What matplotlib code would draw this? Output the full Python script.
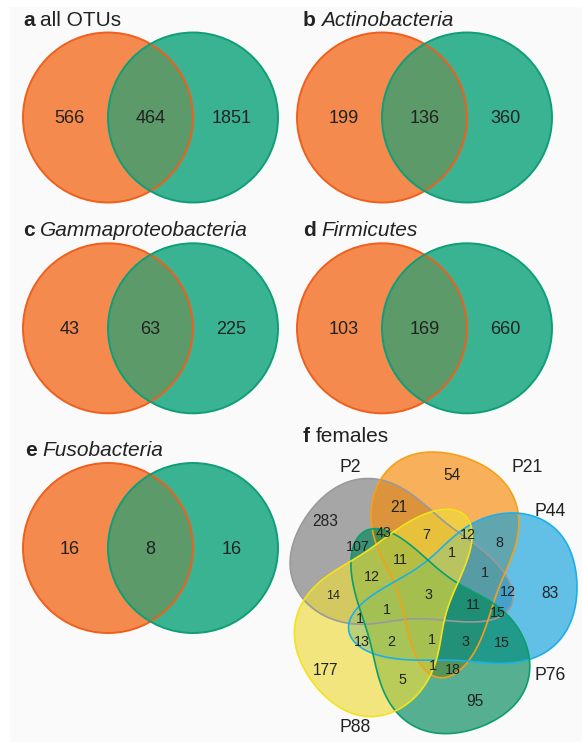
import numpy as np
import matplotlib.pyplot as plt
from matplotlib.patches import Circle, Polygon, Rectangle

plt.rcParams['font.family'] = ['Liberation Sans', 'DejaVu Sans']

# -------------------------------
# Data
# -------------------------------
panel_letters = ['a', 'b', 'c', 'd', 'e']
panel_names = ['all OTUs', 'Actinobacteria', 'Gammaproteobacteria', 'Firmicutes', 'Fusobacteria']
panel_italic = [False, True, True, True, True]
left_only = [566, 199, 43, 103, 16]
shared = [464, 136, 63, 169, 8]
right_only = [1851, 360, 225, 660, 16]

female_sets = ['P2', 'P21', 'P44', 'P76', 'P88']
female_counts = [283, 54, 21, 107, 43, 7, 12, 8, 1, 11, 12, 1, 3, 12, 83, 14,
                 11, 15, 1, 1, 13, 2, 1, 3, 15, 177, 1, 18, 5, 95]

# -------------------------------
# Layout (pixel coordinates, y down)
# -------------------------------
W, H = 582, 742
R = 85
panel_origin = [(108, 117.5), (382, 117.5), (108, 328.3), (382, 328.3), (108, 548)]
panel_dx = 85
title_pos = [(23, 26), (303, 26), (23, 235.7), (303, 235.7), (25, 456)]

ORANGE_FILL, ORANGE_EDGE = '#f48a4e', '#f05f1c'
GREEN_FILL, GREEN_EDGE = '#3ab393', '#0f9e77'
BOTH_FILL = '#5c9a69'
TXT = '#222222'

# label positions for the five-set diagram, same order as female_counts
f_label_xy = [(325, 521.7), (451.7, 475), (399.3, 507.3), (358.3, 546.7), (383.3, 533.3),
              (426.7, 535), (468.3, 535), (499, 543.3), (452.3, 553.3), (400, 560),
              (371.7, 576.7), (485, 573.3), (428.3, 595), (508.3, 591.7), (550, 593.3),
              (333.3, 595.7), (473.3, 605), (498.3, 613.3), (360, 619.3), (386.7, 610),
              (361.7, 641.7), (391.7, 641.7), (432.3, 640), (465.7, 641.7), (501.7, 642.7),
              (325.7, 670.7), (432.7, 665.7), (453.3, 670), (402.3, 680), (475, 701.7)]
f_big = {283, 54, 21, 83, 177, 95}
f_center = (425.7, 592.3)
f_set_xy = [(350, 467), (527, 467), (550, 512), (550, 675), (355, 728)]
f_fill = ['#7a7a7a', '#f88a04', '#10a1de', '#00875a', '#eedb3b']
f_edge = ['#9a9a9a', '#f5a01a', '#1cb0e6', '#0a9e6e', '#f3e31c']
f_rot = [144, 72, 0, -72, -144]
f_stretch = [0.944, 0.94, 0.987, 0.96, 0.957]   # length of each set along its own axis
TIP_X = -80

# traced outline of one set (local coords, y up); the others are rotated copies
shape_pts = np.array([
    (153.7, 5.7), (152.7, -14.3), (141, -41), (117.7, -61), (77.7, -72.7), (24.3, -67.7),
    (-19, -65), (-49, -62.7), (-69, -54.3), (-79, -41), (-79.7, -27.7), (-72.3, -17.7),
    (-55.7, -7.7), (-35.7, 4), (-15.7, 19), (4.3, 35.7), (21, 49), (44.3, 65.7),
    (81, 76.3), (117.7, 74), (141, 55.7), (153.7, 22.3)])


def smooth_outline(pts, harmonics=4, n=400):
    """Least squares Fourier fit of a closed traced outline."""
    d = np.r_[0, np.cumsum(np.hypot(*np.diff(np.vstack([pts, pts[:1]]), axis=0).T))]
    t = d[:-1] / d[-1]

    def basis(tt):
        cols = [np.ones_like(tt)]
        for k in range(1, harmonics + 1):
            cols += [np.cos(2 * np.pi * k * tt), np.sin(2 * np.pi * k * tt)]
        return np.column_stack(cols)

    coef, *_ = np.linalg.lstsq(basis(t), pts, rcond=None)
    return basis(np.linspace(0, 1, n, endpoint=False)) @ coef


def add_title(ax, x, y, letter, name, italic):
    t = ax.text(x, y, letter, fontsize=15, fontweight='bold', ha='left', va='baseline',
                color=TXT)
    ax.annotate(name, xy=(1, 0), xycoords=t, xytext=(4, 0), textcoords='offset points',
                fontsize=15, style='italic' if italic else 'normal', ha='left', va='bottom',
                color=TXT)


fig = plt.figure(figsize=(W / 100, H / 100), dpi=100)
ax = fig.add_axes([0, 0, 1, 1])
ax.set_xlim(0, W)
ax.set_ylim(H, 0)
ax.axis('off')
ax.add_patch(Rectangle((10, 7), W - 10, H - 7, facecolor='#fafafa', edgecolor='none', zorder=0))

# two-set panels
for i in range(len(panel_letters)):
    cx, cy = panel_origin[i]
    lx, rx = cx, cx + panel_dx
    ax.add_patch(Circle((lx, cy), R, facecolor=ORANGE_FILL, edgecolor='none', zorder=1))
    ax.add_patch(Circle((rx, cy), R, facecolor=GREEN_FILL, edgecolor='none', zorder=1))
    ov = Circle((lx, cy), R, facecolor=BOTH_FILL, edgecolor='none', zorder=2)
    ax.add_patch(ov)
    ov.set_clip_path(Circle((rx, cy), R, transform=ax.transData))
    ax.add_patch(Circle((lx, cy), R, facecolor='none', edgecolor=ORANGE_EDGE, lw=1.4, zorder=3))
    ax.add_patch(Circle((rx, cy), R, facecolor='none', edgecolor=GREEN_EDGE, lw=1.4, zorder=3))
    for x, v in [(lx - 0.45 * R, left_only[i]), ((lx + rx) / 2, shared[i]),
                 (rx + 0.45 * R, right_only[i])]:
        ax.text(x, cy + 1, str(v), fontsize=13, ha='center', va='center', color=TXT, zorder=4)
    add_title(ax, title_pos[i][0], title_pos[i][1], panel_letters[i], panel_names[i],
              panel_italic[i])

# five-set panel
add_title(ax, 303, 441.7, 'f', 'females', False)
curve = smooth_outline(shape_pts)
outlines = []
for k in range(len(female_sets)):
    c = curve.copy()
    c[:, 0] = TIP_X + (c[:, 0] - TIP_X) * f_stretch[k]
    a = np.deg2rad(f_rot[k])
    rot = np.array([[np.cos(a), -np.sin(a)], [np.sin(a), np.cos(a)]])
    p = c @ rot.T
    outlines.append(np.column_stack([f_center[0] + p[:, 0], f_center[1] - p[:, 1]]))

for k in range(len(female_sets)):
    ax.add_patch(Polygon(outlines[k], closed=True, facecolor=f_fill[k], alpha=0.65,
                         edgecolor='none', zorder=5 + k))
for k in range(len(female_sets)):
    ax.add_patch(Polygon(outlines[k], closed=True, facecolor='none', edgecolor=f_edge[k],
                         lw=1.2, zorder=11))
    ax.text(f_set_xy[k][0], f_set_xy[k][1], female_sets[k], fontsize=12.7, ha='center',
            va='center', color=TXT, zorder=12)

for v, (x, y) in zip(female_counts, f_label_xy):
    if v in f_big:
        fs = 11.2
    elif v == 14:
        fs = 9
    else:
        fs = 10.3
    ax.text(x, y, str(v), fontsize=fs, ha='center', va='center', color=TXT, zorder=12)

fig.savefig('out.png', dpi=100)
